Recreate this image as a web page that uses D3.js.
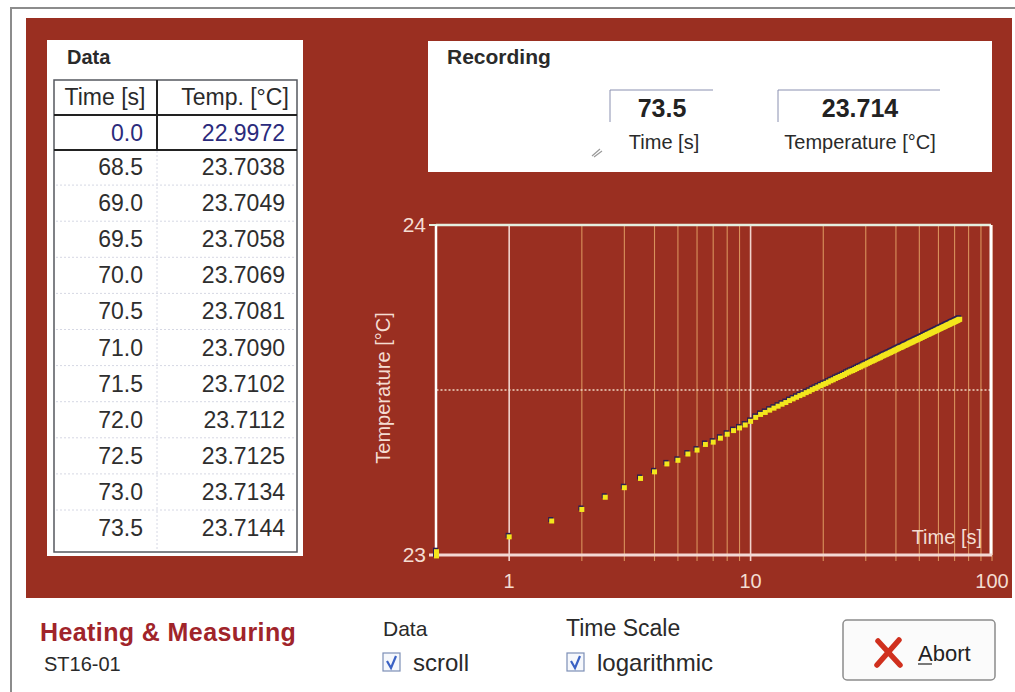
<!DOCTYPE html>
<html>
<head>
<meta charset="utf-8">
<script src="https://cdn.jsdelivr.net/npm/d3@7"></script>
<style>
	body { margin:0; background:#fff; }
	text { font-family: "Liberation Sans", Arial, sans-serif; }
</style>
</head>
<body>
<div id="chart"></div>
<script>
// table on the left (scrolled view)
var tableTime = ["0.0","68.5","69.0","69.5","70.0","70.5","71.0","71.5","72.0","72.5","73.0","73.5"];
var tableTemp = ["22.9972","23.7038","23.7049","23.7058","23.7069","23.7081","23.7090","23.7102","23.7112","23.7125","23.7134","23.7144"];

// recording readout
var recTime = "73.5";
var recTemp = "23.714";

// measured series, one sample every 0.5 s from 0.0 to 73.5 s
var sampleStep = 0.5;
var temps = [
	22.9972, 23.010, 23.055, 23.103, 23.138, 23.175, 23.204, 23.232, 23.252, 23.276,
	23.287, 23.306, 23.318, 23.335, 23.342, 23.354, 23.366, 23.377, 23.385, 23.394,
	23.405, 23.417, 23.426, 23.432, 23.439, 23.445, 23.451, 23.457, 23.462, 23.468,
	23.473, 23.478, 23.483, 23.487, 23.492, 23.496, 23.501, 23.505, 23.509, 23.513,
	23.517, 23.520, 23.524, 23.528, 23.531, 23.535, 23.538, 23.541, 23.544, 23.547,
	23.551, 23.554, 23.557, 23.559, 23.562, 23.565, 23.568, 23.570, 23.573, 23.576,
	23.578, 23.581, 23.583, 23.586, 23.588, 23.590, 23.593, 23.595, 23.597, 23.599,
	23.602, 23.604, 23.606, 23.608, 23.610, 23.612, 23.614, 23.616, 23.618, 23.620,
	23.622, 23.624, 23.626, 23.628, 23.629, 23.631, 23.633, 23.635, 23.636, 23.638,
	23.640, 23.642, 23.643, 23.645, 23.646, 23.648, 23.650, 23.651, 23.653, 23.654,
	23.656, 23.657, 23.659, 23.660, 23.662, 23.663, 23.665, 23.666, 23.668, 23.669,
	23.670, 23.672, 23.673, 23.674, 23.676, 23.677, 23.678, 23.680, 23.681, 23.682,
	23.684, 23.685, 23.686, 23.687, 23.689, 23.690, 23.691, 23.692, 23.693, 23.695,
	23.696, 23.697, 23.698, 23.699, 23.700, 23.702, 23.703, 23.7038, 23.7049, 23.7058,
	23.7069, 23.7081, 23.7090, 23.7102, 23.7112, 23.7125, 23.7134, 23.7144
];

var xTickLabels = [1, 10, 100];
var yTickLabels = [23, 24];
var xGrid = [1,2,3,4,5,6,7,8,9,10,20,30,40,50,60,70,80,90,100];

var red = "#9a2f21";
var pale = "#f4ddd2";

var svg = d3.select("#chart").append("svg")
	.attr("width", 1015).attr("height", 692);

// outer frame of the window
svg.append("path").attr("d", "M11,692 L11,8 L1015,8")
	.attr("fill", "none").attr("stroke", "#8c8c8c").attr("stroke-width", 2);

svg.append("rect").attr("x", 26).attr("y", 18).attr("width", 986).attr("height", 580)
	.attr("fill", red);

// ---------- Data table ----------
svg.append("rect").attr("x", 47).attr("y", 40).attr("width", 256).attr("height", 516)
	.attr("fill", "#fff");
svg.append("text").attr("x", 67).attr("y", 64).attr("font-size", 20)
	.attr("font-weight", "bold").attr("fill", "#2a2a2a").text("Data");

var rowTop = 149, rowH = 36.1;
// faint row separators
for(var i=1; i<tableTime.length-1; i++){
	svg.append("line").attr("x1", 56).attr("x2", 295)
		.attr("y1", rowTop + i*rowH).attr("y2", rowTop + i*rowH)
		.attr("stroke", "#d6d8e4").attr("stroke-dasharray", "2,2");
}
svg.append("line").attr("x1", 157).attr("x2", 157).attr("y1", 151).attr("y2", 551)
	.attr("stroke", "#d6d8e4").attr("stroke-dasharray", "2,2");

svg.append("rect").attr("x", 54).attr("y", 80).attr("width", 243).attr("height", 472)
	.attr("fill", "none").attr("stroke", "#55585f").attr("stroke-width", 1.5);
svg.append("line").attr("x1", 54).attr("x2", 297).attr("y1", 115).attr("y2", 115)
	.attr("stroke", "#222").attr("stroke-width", 2);
svg.append("line").attr("x1", 54).attr("x2", 297).attr("y1", 150).attr("y2", 150)
	.attr("stroke", "#222").attr("stroke-width", 2);
svg.append("line").attr("x1", 157).attr("x2", 157).attr("y1", 80).attr("y2", 150)
	.attr("stroke", "#222").attr("stroke-width", 2);

svg.append("text").attr("x", 105).attr("y", 105).attr("text-anchor", "middle")
	.attr("font-size", 23).attr("fill", "#2a2a2a").text("Time [s]");
svg.append("text").attr("x", 235).attr("y", 105).attr("text-anchor", "middle")
	.attr("font-size", 23).attr("fill", "#2a2a2a").text("Temp. [°C]");

tableTime.forEach(function(t, i){
	var yc = i == 0 ? 133 : rowTop + 18 + (i-1)*rowH;
	var col = i == 0 ? "#2b2b7c" : "#2e2e2e";
	svg.append("text").attr("x", 143).attr("y", yc + 8).attr("text-anchor", "end")
		.attr("font-size", 23).attr("fill", col).text(t);
	svg.append("text").attr("x", 285).attr("y", yc + 8).attr("text-anchor", "end")
		.attr("font-size", 23).attr("fill", col).text(tableTemp[i]);
});

// ---------- Recording panel ----------
svg.append("rect").attr("x", 428).attr("y", 41).attr("width", 564).attr("height", 131)
	.attr("fill", "#fff");
svg.append("text").attr("x", 447).attr("y", 64).attr("font-size", 21)
	.attr("font-weight", "bold").attr("fill", "#2a2a2a").text("Recording");

svg.append("path").attr("d", "M610,122 L610,90 L713,90")
	.attr("fill", "none").attr("stroke", "#8a90b0");
svg.append("path").attr("d", "M778,122 L778,90 L940,90")
	.attr("fill", "none").attr("stroke", "#8a90b0");
// little grip mark
svg.append("path").attr("d", "M592,156 L600,149 M594,157 L602,151")
	.attr("stroke", "#9a9a9a").attr("stroke-width", 1.2);

svg.append("text").attr("x", 662).attr("y", 117).attr("text-anchor", "middle")
	.attr("font-size", 25).attr("font-weight", "bold").attr("fill", "#222").text(recTime);
svg.append("text").attr("x", 860).attr("y", 117).attr("text-anchor", "middle")
	.attr("font-size", 25).attr("font-weight", "bold").attr("fill", "#222").text(recTemp);
svg.append("text").attr("x", 664).attr("y", 149).attr("text-anchor", "middle")
	.attr("font-size", 20).attr("fill", "#2a2a2a").text("Time [s]");
svg.append("text").attr("x", 860).attr("y", 149).attr("text-anchor", "middle")
	.attr("font-size", 20).attr("fill", "#2a2a2a").text("Temperature [°C]");

// ---------- Chart ----------
var x = d3.scaleLog().domain([0.5, 100]).range([436.5, 992]).clamp(true);
var y = d3.scaleLinear().domain([23, 24]).range([555, 225]);

var grid = svg.append("g");
grid.selectAll(".vgrid").data(xGrid).enter().append("line")
	.attr("x1", function(d){ return x(d); }).attr("x2", function(d){ return x(d); })
	.attr("y1", y(24)).attr("y2", y(23) + 6)
	.attr("stroke", function(d){ return (d == 1 || d == 10) ? "#f1d2cc" : "#d9925c"; })
	.attr("stroke-width", function(d){ return (d == 1 || d == 10) ? 1.6 : 1.1; });

grid.append("line").attr("x1", x(0.5)).attr("x2", x(100))
	.attr("y1", y(23.5)).attr("y2", y(23.5))
	.attr("stroke", "#f0d8c4").attr("stroke-width", 1.5).attr("stroke-dasharray", "2,2");

// frame
svg.append("line").attr("x1", 436).attr("x2", 991).attr("y1", y(24)).attr("y2", y(24))
	.attr("stroke", "#e4efe0").attr("stroke-width", 2.5);
svg.append("line").attr("x1", 436).attr("x2", 436).attr("y1", y(24)).attr("y2", y(23))
	.attr("stroke", "#fff").attr("stroke-width", 2.5);
svg.append("line").attr("x1", 991).attr("x2", 991).attr("y1", y(24)).attr("y2", y(23))
	.attr("stroke", "#fff").attr("stroke-width", 3);
svg.append("line").attr("x1", 429).attr("x2", 992).attr("y1", y(23)).attr("y2", y(23))
	.attr("stroke", "#f3d8d4").attr("stroke-width", 3);
svg.append("line").attr("x1", 429).attr("x2", 436).attr("y1", y(24)).attr("y2", y(24))
	.attr("stroke", "#e4efe0").attr("stroke-width", 2);

svg.selectAll(".ylab").data(yTickLabels).enter().append("text")
	.attr("x", 426).attr("y", function(d){ return y(d) + 7; })
	.attr("text-anchor", "end").attr("font-size", 21).attr("fill", pale)
	.text(function(d){ return d; });

svg.selectAll(".xlab").data(xTickLabels).enter().append("text")
	.attr("x", function(d){ return x(d); }).attr("y", 588)
	.attr("text-anchor", "middle").attr("font-size", 20).attr("fill", pale)
	.text(function(d){ return d; });

svg.append("text").attr("transform", "translate(390,388) rotate(-90)")
	.attr("text-anchor", "middle").attr("font-size", 20).attr("fill", pale)
	.text("Temperature [°C]");
svg.append("text").attr("x", 982).attr("y", 544).attr("text-anchor", "end")
	.attr("font-size", 20).attr("fill", pale).text("Time [s]");

// points
var pts = temps.map(function(v, i){ return { t: i*sampleStep, temp: v }; });
var marks = svg.append("g");
marks.selectAll(".shadow").data(pts).enter().append("rect")
	.attr("x", function(d){ return x(d.t) - 3.5; })
	.attr("y", function(d){ return y(d.temp) - 4; })
	.attr("width", 5).attr("height", 5).attr("fill", "#2c1f52");
marks.selectAll(".dot").data(pts).enter().append("rect")
	.attr("x", function(d){ return x(d.t) - 2.5; })
	.attr("y", function(d){ return y(d.temp) - 2.5; })
	.attr("width", 5).attr("height", 5).attr("fill", "#f3e61c");

// ---------- bottom bar ----------
svg.append("text").attr("x", 40).attr("y", 641).attr("font-size", 25)
	.attr("font-weight", "bold").attr("letter-spacing", 0.4)
	.attr("fill", "#a0242a").text("Heating & Measuring");
svg.append("text").attr("x", 44).attr("y", 671).attr("font-size", 20)
	.attr("fill", "#2a2a2a").text("ST16-01");

svg.append("text").attr("x", 383).attr("y", 636).attr("font-size", 21)
	.attr("fill", "#2a2a2a").text("Data");
svg.append("text").attr("x", 566).attr("y", 636).attr("font-size", 23)
	.attr("fill", "#2a2a2a").text("Time Scale");

function checkbox(cx, label){
	svg.append("rect").attr("x", cx).attr("y", 653).attr("width", 17).attr("height", 18)
		.attr("fill", "#f6f8fc").attr("stroke", "#7d8fb6").attr("stroke-width", 1.2);
	svg.append("path").attr("d", "M" + (cx+4) + ",661 L" + (cx+8) + ",668 L" + (cx+13) + ",656")
		.attr("fill", "none").attr("stroke", "#3b62c4").attr("stroke-width", 2.2);
	svg.append("text").attr("x", cx + 30).attr("y", 671).attr("font-size", 24)
		.attr("fill", "#2a2a2a").text(label);
}
checkbox(383, "scroll");
checkbox(567, "logarithmic");

svg.append("rect").attr("x", 843).attr("y", 620).attr("width", 152).attr("height", 60)
	.attr("rx", 4).attr("fill", "#fbfbfb").attr("stroke", "#8c8c8c").attr("stroke-width", 1.5);
svg.append("path").attr("d", "M878,641 L900,665 M899,640 L877,665")
	.attr("stroke", "#d0301e").attr("stroke-width", 5.5).attr("stroke-linecap", "round");
svg.append("text").attr("x", 918).attr("y", 661).attr("font-size", 22)
	.attr("fill", "#222").text("Abort");
svg.append("line").attr("x1", 918).attr("x2", 932).attr("y1", 664).attr("y2", 664)
	.attr("stroke", "#222").attr("stroke-width", 1.2);
</script>
</body>
</html>
